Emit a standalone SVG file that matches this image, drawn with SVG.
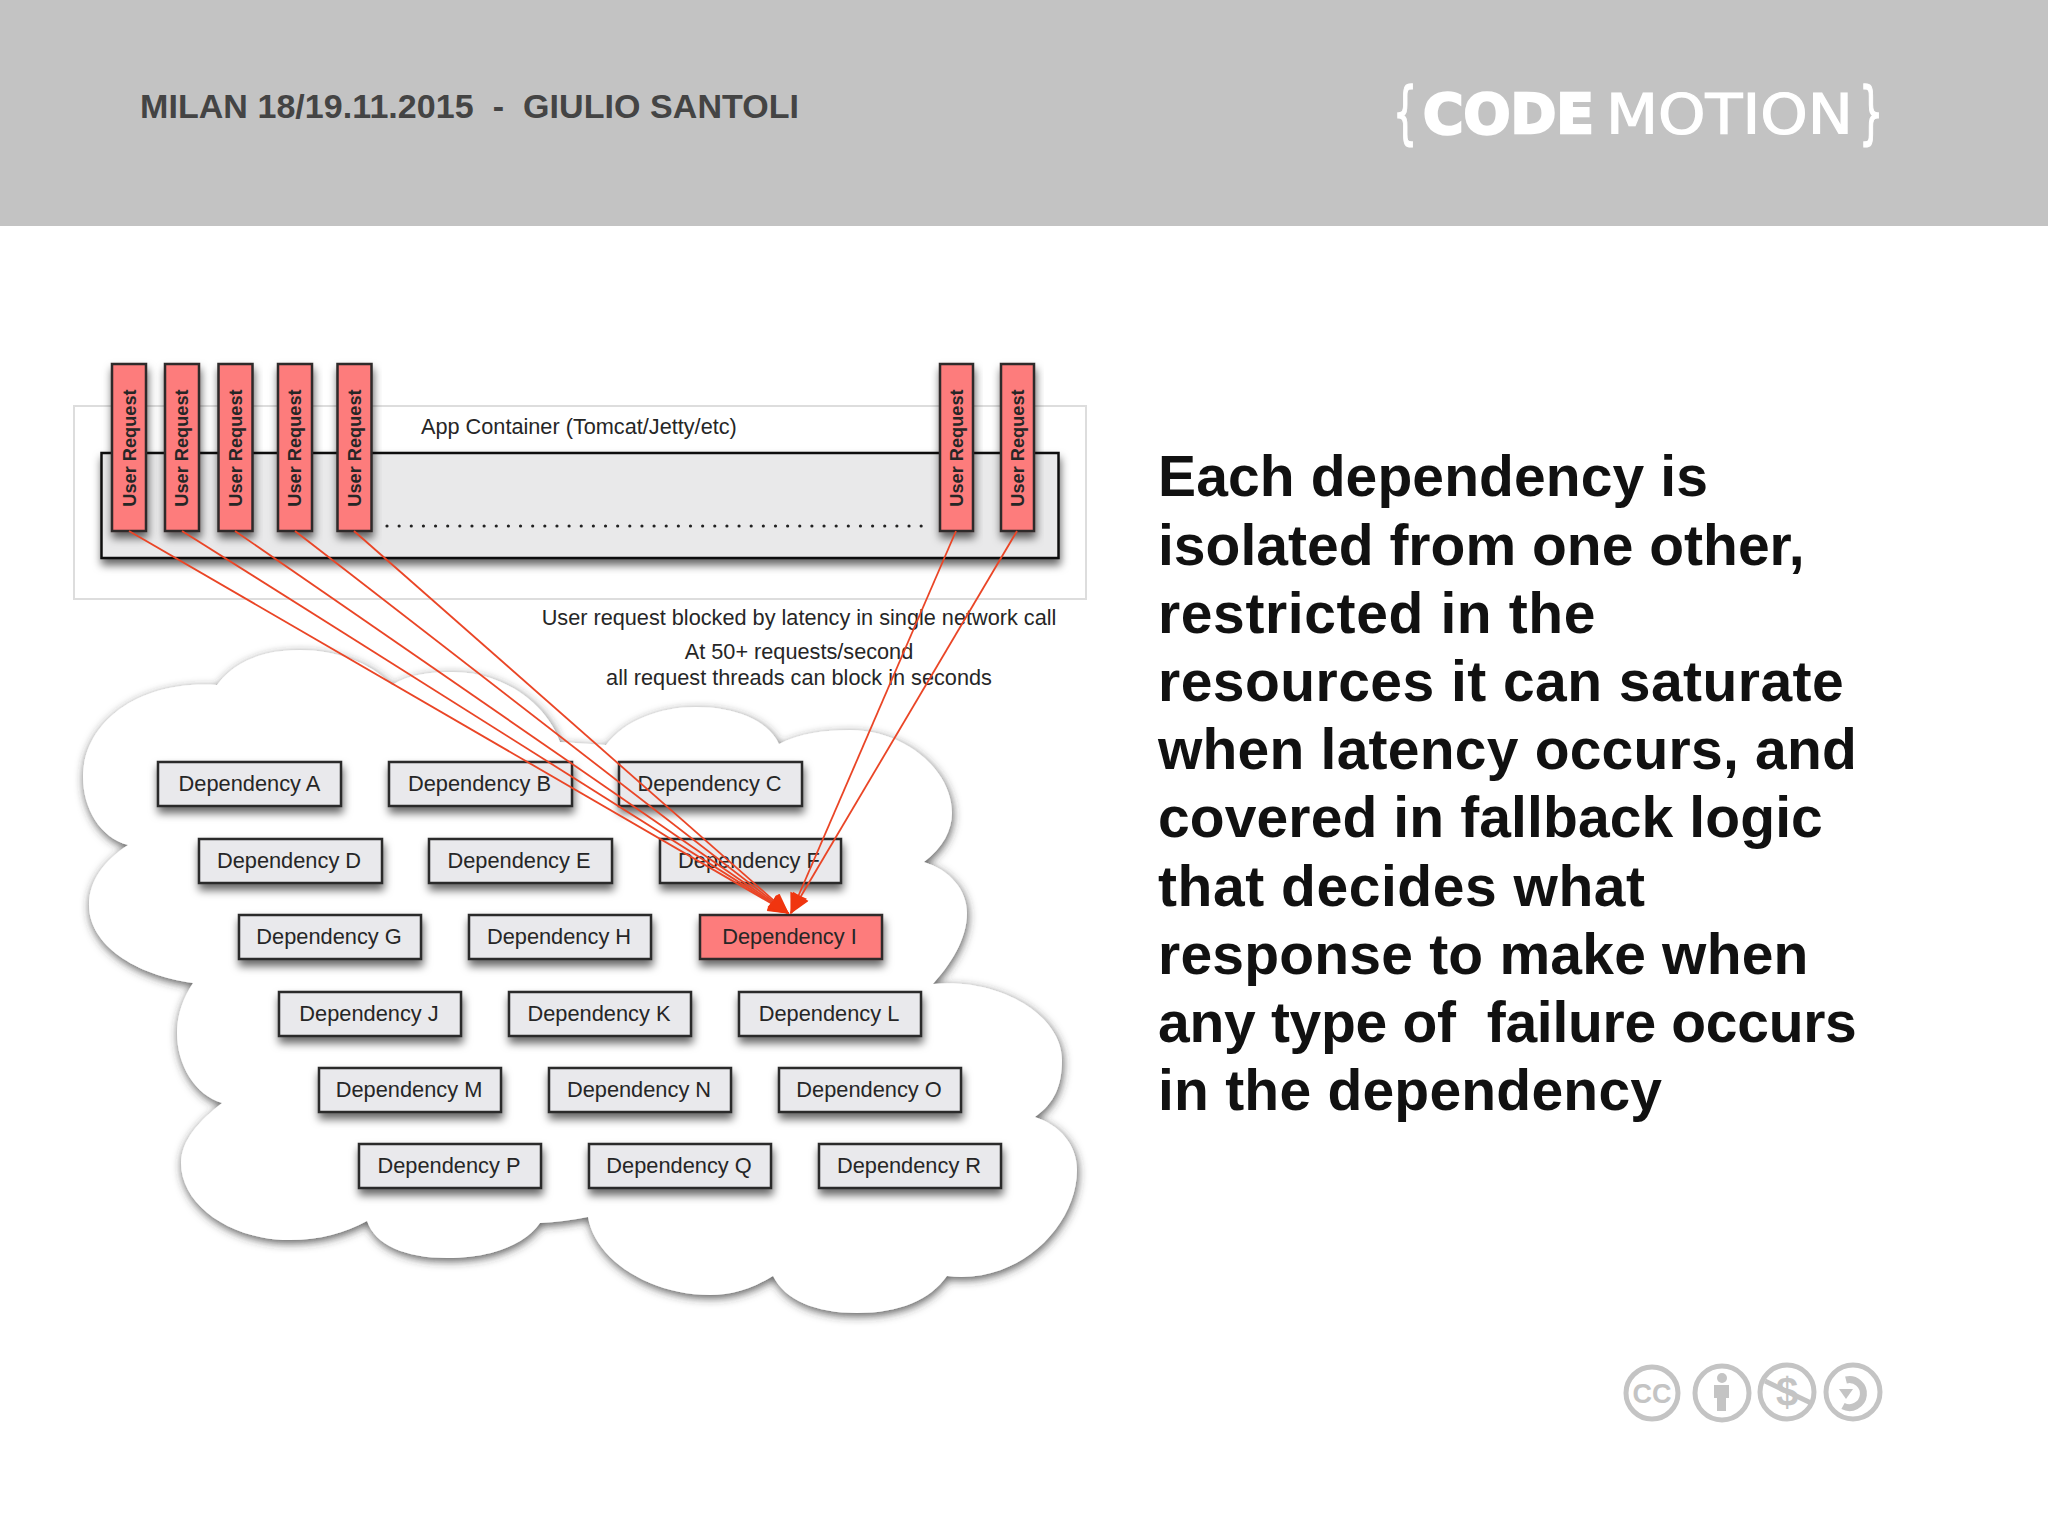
<svg xmlns="http://www.w3.org/2000/svg" width="2048" height="1536" viewBox="0 0 2048 1536">
<defs>
<style>
text{font-family:"Liberation Sans",Arial,sans-serif;fill:#262626}
.box{fill:#e9e9ec;stroke:#2a2a2a;stroke-width:2.5;filter:url(#sh)}
.red{fill:#fd7b7b;stroke:#2e2a2a;stroke-width:2.5;filter:url(#sh)}
.dep{font-size:21.8px;text-anchor:middle}
.ur{font-size:18.200px;font-weight:bold;text-anchor:middle}
.note{font-size:21.7px;text-anchor:middle}
.body{font-size:57px;font-weight:bold;fill:#111;white-space:pre}
.conn{stroke:#ea4526;stroke-width:1.8;fill:none;marker-end:url(#ah)}
.cc{fill:none;stroke:#c4c4c4;stroke-width:5}
.ccf{fill:#c4c4c4}
.logo{fill:#fff;font-family:"DejaVu Sans",sans-serif}
</style>
<filter id="sh" x="-30%" y="-30%" width="160%" height="170%"><feDropShadow dx="1" dy="6" stdDeviation="4" flood-color="#000" flood-opacity=".6"/></filter>
<filter id="csh" x="-10%" y="-10%" width="120%" height="120%"><feDropShadow dx="1" dy="3" stdDeviation="5" flood-color="#333" flood-opacity=".8"/></filter>
<marker id="ah" viewBox="0 0 16 14" refX="15" refY="7" markerUnits="userSpaceOnUse" markerWidth="22" markerHeight="18" orient="auto"><path d="M0 0L16 7L0 14z" fill="#f0350f"/></marker>
</defs>
<rect width="2048" height="1536" fill="#fff"/>
<g id="header">
<rect width="2048" height="226" fill="#c3c3c3"/>
<text x="140" y="118" font-size="34" font-weight="bold" textLength="659" style="fill:#444;white-space:pre">MILAN 18/19.11.2015  -  GIULIO SANTOLI</text>
</g>
<g id="logo">
<text class="logo" transform="translate(1393 136) scale(.56 1)" font-size="68" stroke="#fff" stroke-width="1.500">{</text>
<text class="logo" x="1423" y="133" font-size="55" font-weight="bold" stroke="#fff" stroke-width="2.500" textLength="171" lengthAdjust="spacingAndGlyphs">CODE</text>
<text class="logo" x="1606" y="133" font-size="55" stroke="#fff" stroke-width="1.200" textLength="247" lengthAdjust="spacingAndGlyphs">MOTION</text>
<text class="logo" transform="translate(1859 136) scale(.56 1)" font-size="68" stroke="#fff" stroke-width="1.500">}</text>
</g>
<g id="app-container">
<rect x="74" y="406" width="1012" height="193" fill="#fff" stroke="#ddd" stroke-width="2"/>
<rect x="101.500" y="453" width="957" height="105" fill="#e9e9ea" stroke="#111" stroke-width="2.500" filter="url(#sh)"/>
<text x="421" y="434" font-size="21.7">App Container (Tomcat/Jetty/etc)</text>
<line x1="387" y1="526" x2="925" y2="526" stroke="#222" stroke-width="3.200" stroke-linecap="round" stroke-dasharray="0 12.14"/>
</g>
<g id="cloud">
<path d="M217 685C235 660 265 650 300 650C335 650 370 662 392 685C410 674 430 672 453 672C500 672 545 700 560 742L606 745C625 720 660 707 696 707C735 707 768 720 779 744C800 733 825 730 850 730C905 730 952 770 952 813C952 830 943 848 924 862C950 870 967 890 967 913C967 940 950 965 933 984C1000 978 1062 1015 1062 1060C1062 1085 1055 1103 1035 1117C1060 1125 1077 1145 1077 1170C1077 1225 1020 1285 947 1276C930 1300 900 1313 857 1313C815 1313 785 1300 773 1276C750 1290 730 1295 710 1295C650 1295 595 1260 588 1217Q563 1222 540 1223C525 1245 490 1258 447 1258C405 1258 375 1245 367 1221C345 1233 320 1240 290 1240C230 1240 181 1205 181 1163C181 1140 200 1120 222 1103C195 1095 177 1065 177 1033C177 1015 183 998 193 983C135 975 89 945 89 905C89 880 105 860 128 845C100 838 83 808 83 777C83 725 135 680 217 685Z" fill="#fff" filter="url(#csh)"/>
</g>
<g id="notes">
<text class="note" x="799" y="625">User request blocked by latency in single network call</text>
<text class="note" x="799" y="659">At 50+ requests/second</text>
<text class="note" x="799" y="685">all request threads can block in seconds</text>
</g>
<g id="dep-a"><rect class="box" x="158" y="762" width="183" height="44"/><text class="dep" x="249.500" y="791">Dependency A</text></g>
<g id="dep-b"><rect class="box" x="389" y="762" width="183" height="44"/><text class="dep" x="479.500" y="791">Dependency B</text></g>
<g id="dep-c"><rect class="box" x="619" y="762" width="183" height="44"/><text class="dep" x="709.500" y="791">Dependency C</text></g>
<g id="dep-d"><rect class="box" x="199" y="839" width="183" height="44"/><text class="dep" x="289" y="868">Dependency D</text></g>
<g id="dep-e"><rect class="box" x="429" y="839" width="183" height="44"/><text class="dep" x="519" y="868">Dependency E</text></g>
<g id="dep-f"><rect class="box" x="660" y="839" width="181" height="44"/><text class="dep" x="749" y="868">Dependency F</text></g>
<g id="dep-g"><rect class="box" x="239" y="915" width="182" height="44"/><text class="dep" x="329" y="944">Dependency G</text></g>
<g id="dep-h"><rect class="box" x="469" y="915" width="182" height="44"/><text class="dep" x="559" y="944">Dependency H</text></g>
<g id="dep-i"><rect class="red" x="700" y="915" width="182" height="44"/><text class="dep" x="789.500" y="944">Dependency I</text></g>
<g id="dep-j"><rect class="box" x="279" y="992" width="182" height="44"/><text class="dep" x="369" y="1021">Dependency J</text></g>
<g id="dep-k"><rect class="box" x="509" y="992" width="182" height="44"/><text class="dep" x="599" y="1021">Dependency K</text></g>
<g id="dep-l"><rect class="box" x="739" y="992" width="182" height="44"/><text class="dep" x="829" y="1021">Dependency L</text></g>
<g id="dep-m"><rect class="box" x="319" y="1068" width="182" height="44"/><text class="dep" x="409" y="1097">Dependency M</text></g>
<g id="dep-n"><rect class="box" x="549" y="1068" width="182" height="44"/><text class="dep" x="639" y="1097">Dependency N</text></g>
<g id="dep-o"><rect class="box" x="779" y="1068" width="182" height="44"/><text class="dep" x="869" y="1097">Dependency O</text></g>
<g id="dep-p"><rect class="box" x="359" y="1144" width="182" height="44"/><text class="dep" x="449" y="1173">Dependency P</text></g>
<g id="dep-q"><rect class="box" x="589" y="1144" width="182" height="44"/><text class="dep" x="679" y="1173">Dependency Q</text></g>
<g id="dep-r"><rect class="box" x="819" y="1144" width="182" height="44"/><text class="dep" x="909" y="1173">Dependency R</text></g>
<g id="req-1"><rect class="red" x="112" y="364" width="34" height="167"/><text class="ur" transform="translate(135.500 448) rotate(-90)">User Request</text></g>
<g id="req-2"><rect class="red" x="165" y="364" width="34" height="167"/><text class="ur" transform="translate(188 448) rotate(-90)">User Request</text></g>
<g id="req-3"><rect class="red" x="218.500" y="364" width="34" height="167"/><text class="ur" transform="translate(241.500 448) rotate(-90)">User Request</text></g>
<g id="req-4"><rect class="red" x="278" y="364" width="34" height="167"/><text class="ur" transform="translate(301 448) rotate(-90)">User Request</text></g>
<g id="req-5"><rect class="red" x="337.500" y="364" width="34" height="167"/><text class="ur" transform="translate(360.500 448) rotate(-90)">User Request</text></g>
<g id="req-6"><rect class="red" x="940" y="364" width="33" height="167"/><text class="ur" transform="translate(963 448) rotate(-90)">User Request</text></g>
<g id="req-7"><rect class="red" x="1001" y="364" width="33" height="167"/><text class="ur" transform="translate(1024 448) rotate(-90)">User Request</text></g>
<g id="connectors">
<line class="conn" x1="129" y1="531" x2="788" y2="913"/>
<line class="conn" x1="182" y1="531" x2="788" y2="913"/>
<line class="conn" x1="235" y1="531" x2="788" y2="913"/>
<line class="conn" x1="295" y1="531" x2="788" y2="913"/>
<line class="conn" x1="354" y1="531" x2="788" y2="913"/>
<line class="conn" x1="956" y1="531" x2="791" y2="913"/>
<line class="conn" x1="1017" y1="531" x2="791" y2="913"/>
</g>
<g id="body-text">
<text class="body" x="1158" y="496.300" textLength="550">Each dependency is</text>
<text class="body" x="1158" y="564.500" textLength="646.500">isolated from one other,</text>
<text class="body" x="1158" y="632.700" textLength="437.500">restricted in the</text>
<text class="body" x="1158" y="700.900" textLength="685.700">resources it can saturate</text>
<text class="body" x="1158" y="769.100" textLength="698.800">when latency occurs, and</text>
<text class="body" x="1158" y="837.300" textLength="664.800">covered in fallback logic</text>
<text class="body" x="1158" y="905.500" textLength="487">that decides what</text>
<text class="body" x="1158" y="973.700" textLength="650.400">response to make when</text>
<text class="body" x="1158" y="1041.900" textLength="698.800">any type of  failure occurs</text>
<text class="body" x="1158" y="1110.100" textLength="504">in the dependency</text>
</g>
<g id="license">
<circle class="cc" cx="1652" cy="1393" r="26"/>
<text x="1652" y="1403" font-size="27" font-weight="bold" text-anchor="middle" style="fill:#c4c4c4">CC</text>
<circle class="cc" cx="1722" cy="1393" r="27"/>
<circle class="ccf" cx="1722" cy="1378" r="5"/>
<path class="ccf" d="M1714 1385H1729V1398H1726V1411H1717V1398H1714Z"/>
<circle class="cc" cx="1787" cy="1392" r="27"/>
<text x="1787" y="1406" font-size="40" font-weight="bold" text-anchor="middle" style="fill:#c4c4c4">$</text>
<line class="cc" x1="1765" y1="1381" x2="1811" y2="1403"/>
<circle class="cc" cx="1853" cy="1392" r="27"/>
<path d="M1846 1380A14 14 0 1 1 1843 1406" fill="none" stroke="#c4c4c4" stroke-width="7"/>
<path class="ccf" d="M1839 1389L1853 1389L1846 1399Z"/>
</g>
</svg>
